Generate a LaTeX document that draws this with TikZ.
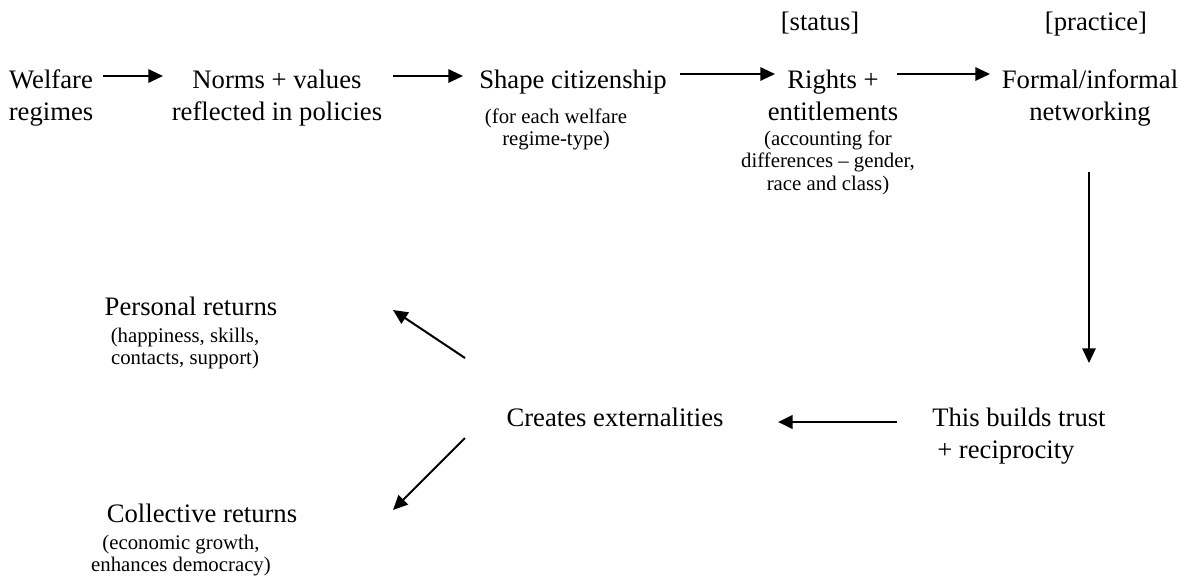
\documentclass[tikz,border=0pt]{standalone}
\usepackage{fontspec}
\setmainfont{Liberation Serif}
\usetikzlibrary{arrows.meta}
\newcommand{\mainfs}{\fontsize{20}{24}\selectfont}
\newcommand{\subfs}{\fontsize{15.6}{16.9}\selectfont}
\newcommand{\stackc}[1]{\begin{tabular}[t]{@{}c@{}}#1\end{tabular}}
\newcommand{\stackl}[1]{\begin{tabular}[t]{@{}l@{}}#1\end{tabular}}
\begin{document}
\begin{tikzpicture}[x=0.75pt,y=-0.75pt,
  txt/.style={inner sep=0pt,anchor=base,font=\mainfs},
  sub/.style={inner sep=0pt,anchor=base,font=\subfs},
  arr/.style={line width=1.5pt,-{Triangle[length=11pt,width=10pt]}}]
\useasboundingbox[fill=white] (0,0) rectangle (1199,579);

% top labels
\node[txt] (status) at (820,30) {[status]};
\node[txt] (practice) at (1096,30) {[practice]};

% top row
\node[txt] (welfare) at (51,88) {\stackc{Welfare\\regimes}};
\node[txt] (norms) at (277,88) {\stackc{Norms + values\\reflected in policies}};
\node[txt] (shape) at (573,88) {Shape citizenship};
\node[sub] (shapesub) at (556,123) {\stackc{(for each welfare\\regime-type)}};
\node[txt] (rights) at (833,88) {\stackc{Rights +\\entitlements}};
\node[sub] (rightssub) at (828,145) {\stackc{(accounting for\\differences – gender,\\race and class)}};
\node[txt] (formal) at (1090,88) {\stackc{Formal/informal\\networking}};

% lower part
\node[txt,anchor=base west] (trust) at (932,426) {\stackl{This builds trust\\\hspace{3.75pt}+ reciprocity}};
\node[txt] (creates) at (615,426) {Creates externalities};
\node[txt] (personal) at (191,315) {Personal returns};
\node[sub] (personalsub) at (185,342) {\stackc{(happiness, skills,\\contacts, support)}};
\node[txt] (collective) at (202,522) {Collective returns};
\node[sub] (collectivesub) at (181,549) {\stackc{(economic growth,\\enhances democracy)}};

% connector end points
\coordinate (a1s) at (103,76);  \coordinate (a1e) at (163,76);
\coordinate (a2s) at (393,76);  \coordinate (a2e) at (463,76);
\coordinate (a3s) at (680,74);  \coordinate (a3e) at (775,74);
\coordinate (a4s) at (897,74);  \coordinate (a4e) at (990,74);
\coordinate (a5s) at (1089,172); \coordinate (a5e) at (1089,363);
\coordinate (a6s) at (897,422); \coordinate (a6e) at (778,422);
\coordinate (a7s) at (465,358); \coordinate (a7e) at (393,310);
\coordinate (a8s) at (465,438); \coordinate (a8e) at (393,510);

\draw[arr] (a1s) -- (a1e);
\draw[arr] (a2s) -- (a2e);
\draw[arr] (a3s) -- (a3e);
\draw[arr] (a4s) -- (a4e);
\draw[arr] (a5s) -- (a5e);
\draw[arr,line width=2.2pt] (a6s) -- (a6e);
\draw[arr] (a7s) -- (a7e);
\draw[arr] (a8s) -- (a8e);
\end{tikzpicture}
\end{document}
